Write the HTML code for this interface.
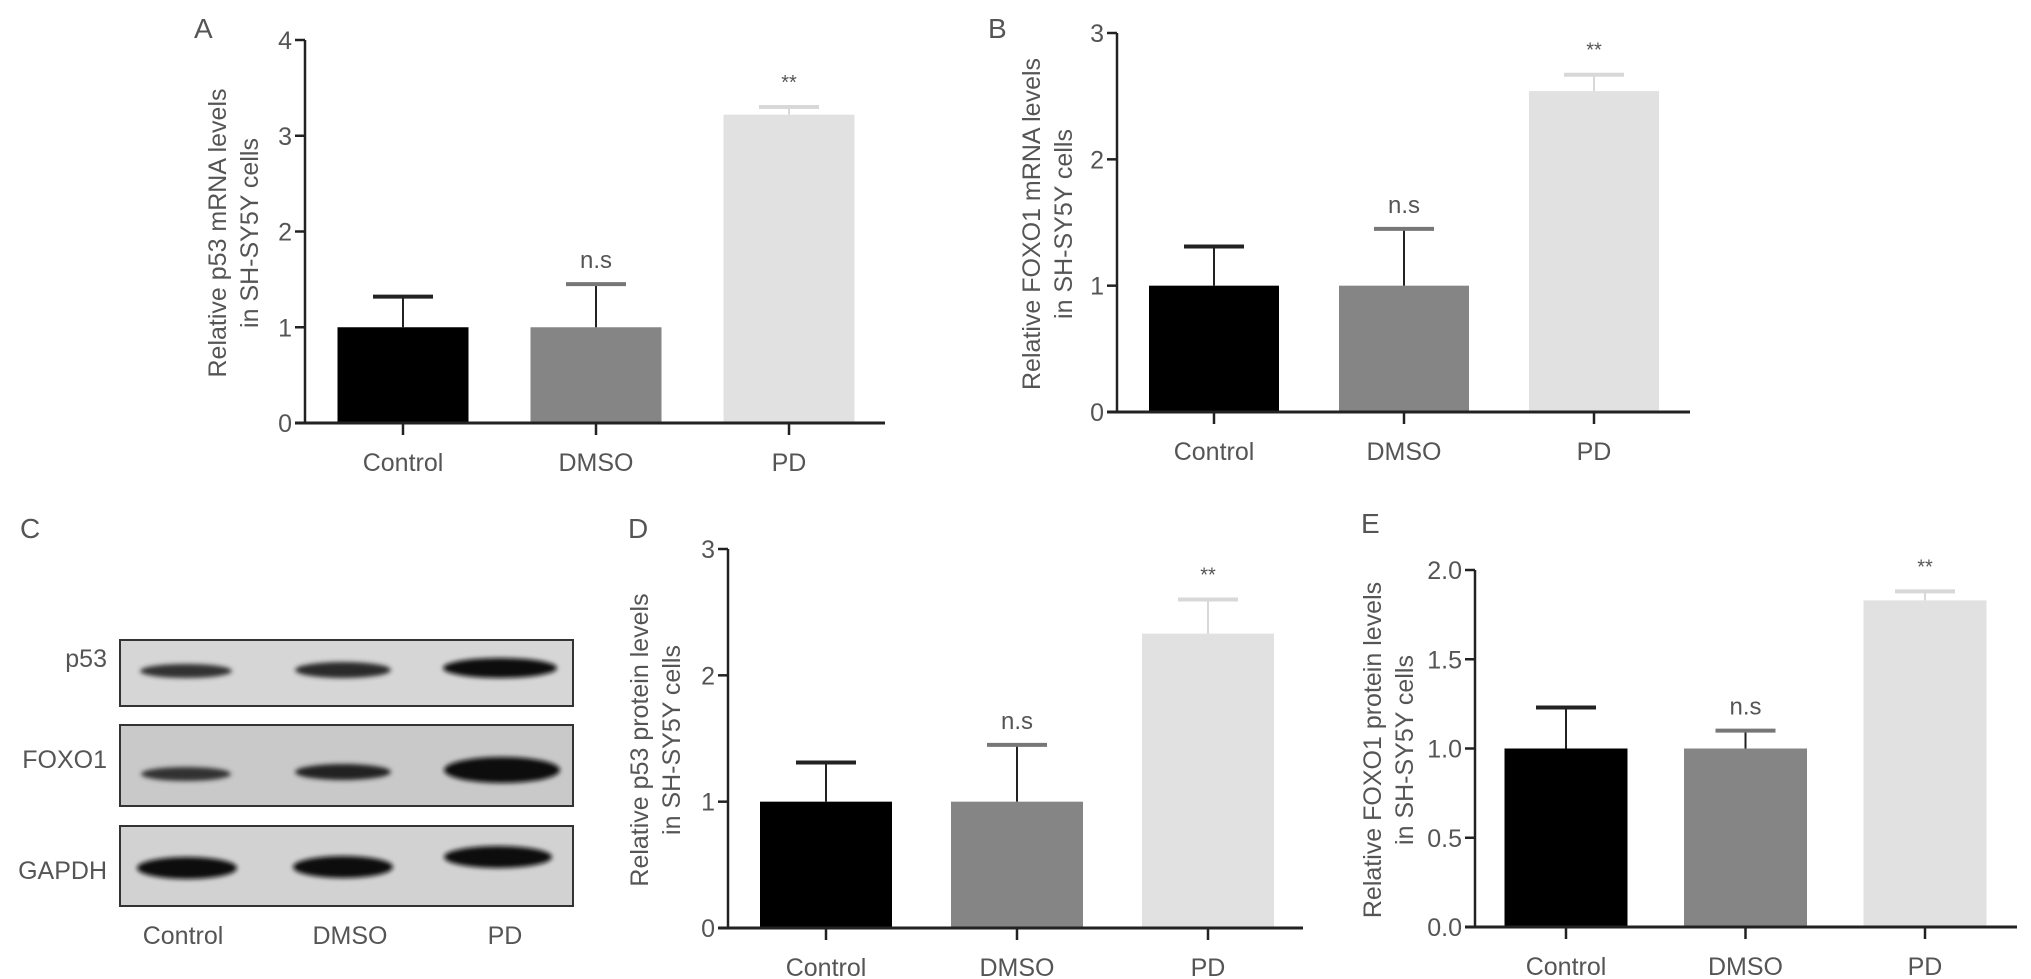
<!DOCTYPE html>
<html><head><meta charset="utf-8">
<style>
html,body{margin:0;padding:0;background:#fff;}
svg{display:block;font-family:"Liberation Sans",Arial,sans-serif;}
</style></head>
<body>
<svg id="fig" width="2031" height="979" viewBox="0 0 2031 979">
<defs><filter id="soft" x="-20%" y="-50%" width="140%" height="200%"><feGaussianBlur stdDeviation="2.5"/></filter></defs>
<g id="blot">
  <text x="20" y="538" font-size="28" fill="#555">C</text>
  <rect x="120" y="640" width="453" height="66" fill="#d6d6d6" stroke="#333" stroke-width="2"/>
  <rect x="120" y="725" width="453" height="81" fill="#c9c9c9" stroke="#333" stroke-width="2"/>
  <rect x="120" y="826" width="453" height="80" fill="#d2d2d2" stroke="#333" stroke-width="2"/>
  <g filter="url(#soft)">
  <ellipse cx="186" cy="671" rx="46" ry="7" fill="#333"/>
  <ellipse cx="343" cy="670" rx="48" ry="8" fill="#2a2a2a"/>
  <ellipse cx="500" cy="668" rx="57" ry="10" fill="#111"/>
  <ellipse cx="186" cy="774" rx="45" ry="7" fill="#333"/>
  <ellipse cx="343" cy="772" rx="48" ry="8" fill="#222"/>
  <ellipse cx="502" cy="770" rx="58" ry="13" fill="#0a0a0a"/>
  <ellipse cx="187" cy="868" rx="50" ry="11" fill="#111"/>
  <ellipse cx="343" cy="867" rx="50" ry="11" fill="#111"/>
  <ellipse cx="498" cy="857" rx="54" ry="11" fill="#111"/>
  </g>
  <text x="107" y="667" font-size="25" fill="#555" text-anchor="end">p53</text>
  <text x="107" y="768" font-size="25" fill="#555" text-anchor="end">FOXO1</text>
  <text x="107" y="879" font-size="25" fill="#555" text-anchor="end">GAPDH</text>
  <text x="183" y="944" font-size="25" fill="#555" text-anchor="middle">Control</text>
  <text x="350" y="944" font-size="25" fill="#555" text-anchor="middle">DMSO</text>
  <text x="505" y="944" font-size="25" fill="#555" text-anchor="middle">PD</text>
</g>
</svg>
<script>
const categories = ["Control", "DMSO", "PD"];
const valuesA = [1.0, 1.0, 3.22];
const errorsA = [1.32, 1.45, 3.30];
const ticksA = ["0", "1", "2", "3", "4"];
const marksA = ["", "n.s", "**"];
const valuesB = [1.0, 1.0, 2.54];
const errorsB = [1.31, 1.45, 2.67];
const ticksB = ["0", "1", "2", "3"];
const marksB = ["", "n.s", "**"];
const valuesD = [1.0, 1.0, 2.33];
const errorsD = [1.31, 1.45, 2.60];
const ticksD = ["0", "1", "2", "3"];
const marksD = ["", "n.s", "**"];
const valuesE = [1.0, 1.0, 1.83];
const errorsE = [1.23, 1.10, 1.88];
const ticksE = ["0.0", "0.5", "1.0", "1.5", "2.0"];
const marksE = ["", "n.s", "**"];

const NS = "http://www.w3.org/2000/svg";
const svg = document.getElementById("fig");
const colors = ["#000000", "#858585", "#e1e1e1"];

function mk(tag, attrs, parent) {
  const e = document.createElementNS(NS, tag);
  for (const k in attrs) e.setAttribute(k, attrs[k]);
  parent.appendChild(e);
  return e;
}

function chart(cfg, values, errors, ticks, marks) {
  const g = mk("g", {}, svg);
  
  
  const maxV = parseFloat(ticks[ticks.length - 1]);
  const y = v => cfg.y0 - (v / maxV) * (cfg.y0 - cfg.yTop);
  const x = i => cfg.xFirst + i * cfg.step;
  const L = mk("text", {x: cfg.lx, y: cfg.ly, "font-size": 28, fill: "#555"}, g);
  L.textContent = cfg.letter;
  
  
  values.forEach((v, i) => {
    const r = mk("rect", {x: x(i) - cfg.bw / 2, y: y(v), width: cfg.bw, height: cfg.y0 - y(v), fill: colors[i]}, g);
    
    
    const ec = i === 2 ? "#d8d8d8" : "#222";
    const el = mk("line", {x1: x(i), x2: x(i), y1: y(v), y2: y(errors[i]), stroke: ec, "stroke-width": 2}, g);
    
    
    const cap = mk("line", {x1: x(i) - 30, x2: x(i) + 30, y1: y(errors[i]), y2: y(errors[i]), stroke: i === 2 ? "#d8d8d8" : (i === 1 ? "#777" : "#222"), "stroke-width": 4}, g);
    
    
    if (marks[i]) {
      const m = mk("text", {x: x(i), y: y(errors[i]) - (marks[i] === "**" ? 18 : 16), "font-size": marks[i] === "**" ? 20 : 24, fill: "#555", "text-anchor": "middle"}, g);
      m.textContent = marks[i];
      
      
    }
    const t = mk("line", {x1: x(i), x2: x(i), y1: cfg.y0, y2: cfg.y0 + 12, stroke: "#222", "stroke-width": 2.5}, g);
    
    
    const lab = mk("text", {x: x(i), y: cfg.y0 + 48, "font-size": 25, fill: "#555", "text-anchor": "middle"}, g);
    lab.textContent = categories[i];
    
    
  });
  const ya = mk("line", {x1: cfg.ax, x2: cfg.ax, y1: cfg.yTop, y2: cfg.y0 + 1, stroke: "#222", "stroke-width": 2.5}, g);
  
  
  const xa = mk("line", {x1: cfg.ax - 10, x2: cfg.xEnd, y1: cfg.y0, y2: cfg.y0, stroke: "#222", "stroke-width": 3}, g);
  
  
  ticks.forEach(tk => {
    const v = parseFloat(tk);
    const tl = mk("line", {x1: cfg.ax - 10, x2: cfg.ax, y1: y(v), y2: y(v), stroke: "#222", "stroke-width": 2.5}, g);
    
    
    const tt = mk("text", {x: cfg.ax - 13, y: y(v) + 9, "font-size": 25, fill: "#555", "text-anchor": "end"}, g);
    tt.textContent = tk;
    
    
  });
  const tg = mk("text", {transform: `translate(${cfg.tx},${cfg.ty}) rotate(-90)`, "font-size": 25, fill: "#555", "text-anchor": "middle"}, g);
  
  
  const s1 = mk("tspan", {x: 0, y: 0}, tg);
  s1.textContent = cfg.t1;
  const s2 = mk("tspan", {x: 0, y: 32}, tg);
  s2.textContent = "in SH-SY5Y cells";
}

chart({id: "chart-a-p53-mrna", letter: "A", lx: 194, ly: 38, ax: 305, y0: 423, yTop: 40, xFirst: 403, step: 193, bw: 131, xEnd: 885, tx: 226, ty: 233, t1: "Relative p53 mRNA levels"}, valuesA, errorsA, ticksA, marksA);
chart({id: "chart-b-foxo1-mrna", letter: "B", lx: 988, ly: 38, ax: 1117, y0: 412, yTop: 33, xFirst: 1214, step: 190, bw: 130, xEnd: 1690, tx: 1040, ty: 224, t1: "Relative FOXO1 mRNA levels"}, valuesB, errorsB, ticksB, marksB);
chart({id: "chart-d-p53-protein", letter: "D", lx: 628, ly: 538, ax: 728, y0: 928, yTop: 549, xFirst: 826, step: 191, bw: 132, xEnd: 1303, tx: 648, ty: 740, t1: "Relative p53 protein levels"}, valuesD, errorsD, ticksD, marksD);
chart({id: "chart-e-foxo1-protein", letter: "E", lx: 1361, ly: 533, ax: 1475, y0: 927, yTop: 570, xFirst: 1566, step: 179.5, bw: 123, xEnd: 2017, tx: 1381, ty: 750, t1: "Relative FOXO1 protein levels"}, valuesE, errorsE, ticksE, marksE);
</script>
</body></html>
